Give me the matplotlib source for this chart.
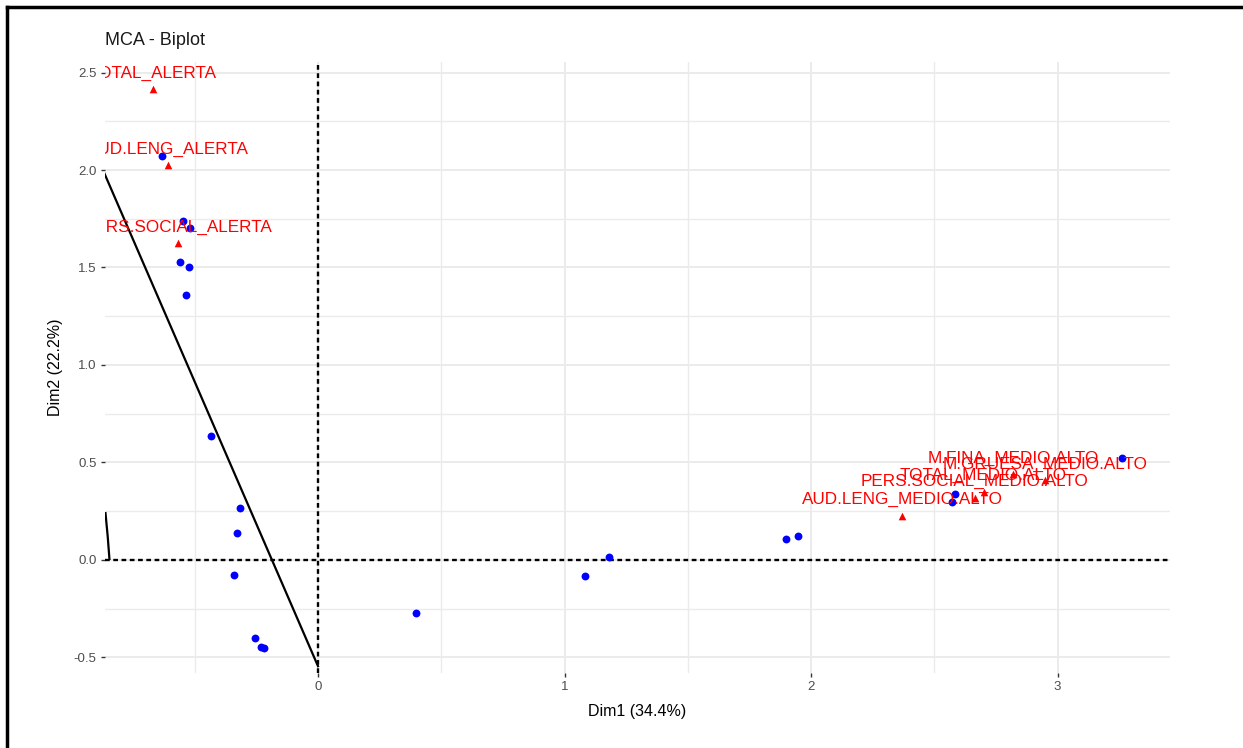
import numpy as np
import matplotlib.pyplot as plt
from matplotlib.lines import Line2D

# individuos (puntos azules)
ind_x = [-0.633, -0.548, -0.519, -0.56, -0.523, -0.536, -0.434, -0.316, -0.328, -0.341,
         -0.255, -0.232, -0.218, 0.398, 1.083, 1.18, 1.898, 1.947, 2.585, 2.57, 3.26]
ind_y = [2.07, 1.74, 1.70, 1.53, 1.50, 1.36, 0.636, 0.265, 0.137, -0.077,
         -0.40, -0.446, -0.45, -0.27, -0.082, 0.015, 0.108, 0.123, 0.338, 0.297, 0.523]

# categorias (triangulos rojos)
var_labels = ["TOTAL_ALERTA", "AUD.LENG_ALERTA", "PERS.SOCIAL_ALERTA",
              "AUD.LENG_MEDIO.ALTO", "PERS.SOCIAL_MEDIO.ALTO", "TOTAL_MEDIO.ALTO",
              "M.FINA_MEDIO.ALTO", "M.GRUESA_MEDIO.ALTO"]
var_x = [-0.67, -0.61, -0.567, 2.37, 2.665, 2.70, 2.82, 2.95]
var_y = [2.415, 2.026, 1.625, 0.226, 0.32, 0.35, 0.44, 0.41]

# trazos negros
line_x = [-0.87, 0.0]
line_y = [1.993, -0.545]
arc_x = [-0.862, -0.853, -0.846]
arc_y = [0.24, 0.12, 0.005]

x_ticks = [0, 1, 2, 3]
y_ticks = [-0.5, 0.0, 0.5, 1.0, 1.5, 2.0, 2.5]

plt.rcParams['font.family'] = ['Liberation Sans', 'DejaVu Sans']

fig = plt.figure(figsize=(12.43, 7.48), dpi=100)
ax = fig.add_axes([105 / 1243, 1 - 673 / 748, 1065 / 1243, 611 / 748])

ax.set_xlim(-0.864, 3.456)
ax.set_ylim(-0.58, 2.554)

# rejilla estilo theme_minimal
grid_col = "#EBEBEB"
for v in [-0.5, 0.5, 1.5, 2.5]:
    ax.axvline(v, color=grid_col, lw=1.0, zorder=0)
for v in x_ticks:
    ax.axvline(v, color=grid_col, lw=1.4, zorder=0)
for v in np.arange(-0.25, 2.5, 0.5):
    ax.axhline(v, color=grid_col, lw=1.0, zorder=0)
for v in y_ticks:
    ax.axhline(v, color=grid_col, lw=1.4, zorder=0)

for s in ax.spines.values():
    s.set_visible(False)

ax.axhline(0, color="black", lw=1.7, ls=(0, (2.0, 1.5)), zorder=2)
ax.axvline(0, color="black", lw=1.7, ls=(0, (2.0, 1.5)), zorder=2)

ax.plot(line_x, line_y, color="black", lw=1.6, zorder=3)
ax.plot(arc_x, arc_y, color="black", lw=1.6, zorder=3)

ax.scatter(ind_x, ind_y, color="blue", s=32, zorder=4, linewidths=0)
ax.scatter(var_x, var_y, color="red", marker="^", s=30, zorder=4, linewidths=0)

for lab, x, y in zip(var_labels, var_x, var_y):
    ax.annotate(lab, (x, y), xytext=(0, 11.5), textcoords="offset points",
                ha="center", va="center", color="red", fontsize=12.3,
                annotation_clip=False, clip_on=True, zorder=5)

ax.set_xticks(x_ticks)
ax.set_xticklabels([str(v) for v in x_ticks])
ax.set_yticks(y_ticks)
ax.set_yticklabels([f"{v:.1f}" for v in y_ticks])
ax.tick_params(length=3, width=1, color="#333333", labelcolor="#4D4D4D", labelsize=9.5, pad=3)

ax.set_xlabel("Dim1 (34.4%)", fontsize=11.5, labelpad=8)
ax.set_ylabel("Dim2 (22.2%)", fontsize=11.5, labelpad=8)
ax.set_title("MCA - Biplot", loc="left", fontsize=13, pad=12, color="#1A1A1A")

# borde de la captura (arriba e izquierda)
fig.add_artist(Line2D([7 / 1243, 1], [1 - 7 / 748, 1 - 7 / 748], color="black", lw=2.5))
fig.add_artist(Line2D([7 / 1243, 7 / 1243], [0, 1 - 7 / 748], color="black", lw=2.5))

fig.savefig("out.png", dpi=100)
